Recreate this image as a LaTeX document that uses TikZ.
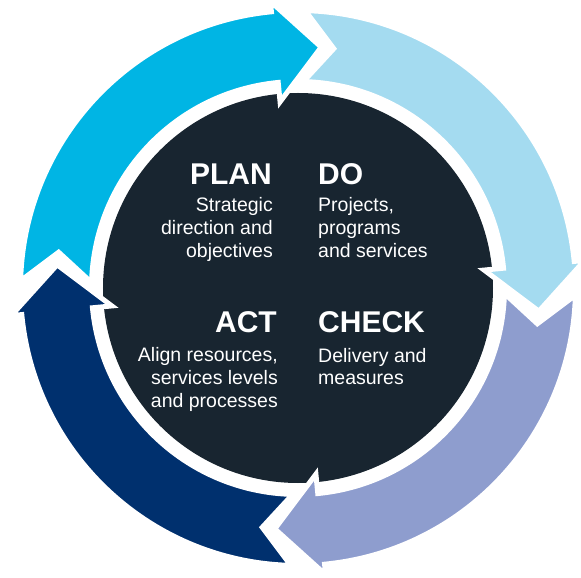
\documentclass[tikz,border=0pt]{standalone}
\usepackage{fontspec}
\setmainfont{Liberation Sans}
\usepackage{tikz}

\definecolor{plancol}{RGB}{0,181,228}
\definecolor{docol}{RGB}{164,219,240}
\definecolor{checkcol}{RGB}{142,157,206}
\definecolor{actcol}{RGB}{0,48,110}
\definecolor{hubcol}{RGB}{24,37,48}

\tikzset{
  phase/.style={font=\bfseries\fontsize{30}{30}\selectfont, text=white, inner sep=0pt},
  phasetext/.style={font=\fontsize{19.5}{23}\selectfont, text=white, inner sep=0pt},
  ringarrow/.style={draw=white, line width=5pt, line join=miter}
}

\begin{document}
\begin{tikzpicture}[x=1pt,y=1pt]
        \useasboundingbox (-298,-290) rectangle (283,288);

        \coordinate (O) at (0,0);
        \fill[hubcol] (O) circle (195);

        % four arrows of the cycle, clockwise
        \foreach \s/\col in {180/plancol, 90/docol, 0/checkcol, -90/actcol} {
            \filldraw[ringarrow, fill=\col]
                (\s-1.5:277.5) arc[start angle=\s-1.5, end angle=\s-84.5, radius=277.5]
                -- (\s-84.5:288) -- (\s-95.5:242) -- (\s-84.5:187)
                -- (\s-84.5:206.5) arc[start angle=\s-84.5, end angle=\s-1.5, radius=206.5]
                -- (\s-8.5:242) -- cycle;
        }

        \node[phase, anchor=base east] (plan) at (-26,103) {PLAN};
        \node[phase, anchor=base west] (do) at (20,103) {DO};
        \node[phase, anchor=base east] (act) at (-21,-45) {ACT};
        \node[phase, anchor=base west] (check) at (20,-45) {CHECK};

        % base = last line of each text
        \node[phasetext, align=right, anchor=base east] (plantext) at (-25,30) {Strategic\\direction and\\objectives};
        \node[phasetext, align=left, anchor=base west] (dotext) at (20,30) {Projects,\\programs\\and services};
        \node[phasetext, align=right, anchor=base east] (acttext) at (-20,-119) {Align resources,\\services levels\\and processes};
        \node[phasetext, align=left, anchor=base west] (checktext) at (20,-97) {Delivery and\\measures};
    \end{tikzpicture}
\end{document}
